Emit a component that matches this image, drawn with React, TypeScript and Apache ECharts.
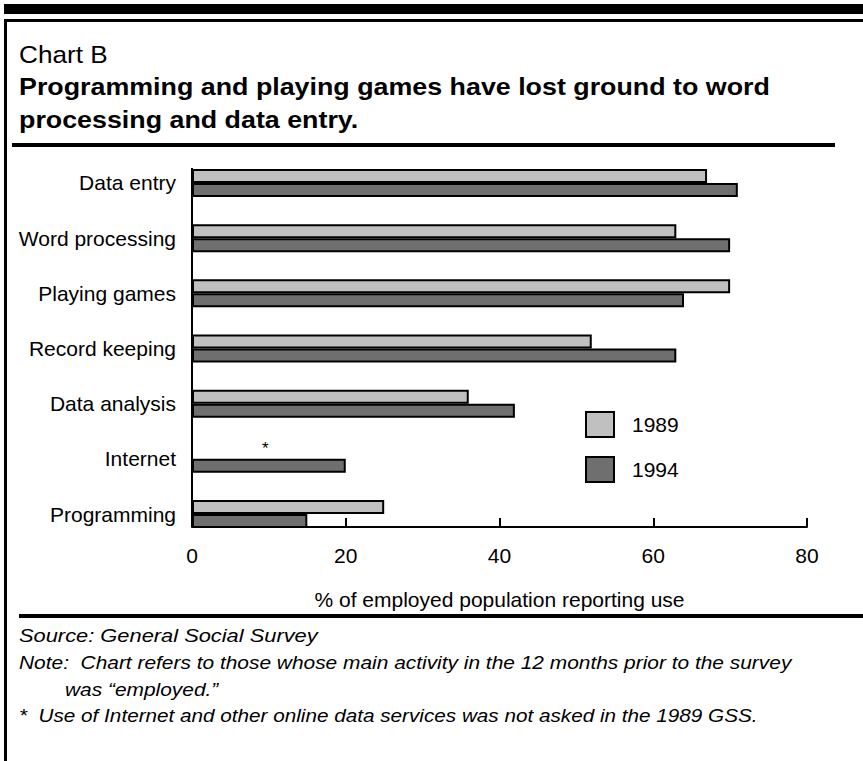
import React, { useEffect, useRef } from "react";
import * as echarts from "echarts";

const categories = [
  "Data entry",
  "Word processing",
  "Playing games",
  "Record keeping",
  "Data analysis",
  "Internet",
  "Programming",
];
const values1989: (number | null)[] = [67, 63, 70, 52, 36, null, 25];
const values1994: number[] = [71, 70, 64, 63, 42, 20, 15];
const seriesNames = ["1989", "1994"];
const xTicks = { min: 0, max: 80, interval: 20 };

const FONT = "'Liberation Sans', Arial, Helvetica, sans-serif";
const LIGHT = "#c0c0c0";
const DARK = "#6f6f6f";

// text drawn slightly widened, like the wide sans face of the printed chart
const wideText = (x: number, y: number, text: string, font: string, sx: number, extra = {}) => ({
  type: "text" as const,
  x,
  y,
  scaleX: sx,
  style: { text, font, fill: "#000", verticalAlign: "middle" as const, ...extra },
});

export default function App() {
  const ref = useRef<HTMLDivElement>(null);

  useEffect(() => {
    if (!ref.current) return;
    const chart = echarts.init(ref.current, undefined, { renderer: "svg" });

    const option: echarts.EChartsOption = {
      animation: false,
      backgroundColor: "#ffffff",
      textStyle: { fontFamily: FONT, color: "#000" },
      grid: { left: 192, right: 56, top: 155.4, bottom: 219.4, containLabel: false },
      legend: {
        orient: "vertical",
        left: 585,
        top: 411,
        padding: 0,
        itemWidth: 28,
        itemHeight: 25,
        itemGap: 18,
        icon: "rect",
        data: seriesNames,
        textStyle: { fontFamily: FONT, fontSize: 21, color: "#000", padding: [0, 0, 0, 13] },
        selectedMode: false,
      },
      xAxis: {
        type: "value",
        min: xTicks.min,
        max: xTicks.max,
        interval: xTicks.interval,
        position: "bottom",
        offset: -14.6,
        axisLine: { show: true, lineStyle: { color: "#000", width: 2 } },
        axisTick: { show: true, inside: true, length: 9, lineStyle: { color: "#000", width: 2 } },
        splitLine: { show: false },
        axisLabel: { fontFamily: FONT, fontSize: 21, color: "#000", margin: 18 },
        name: "% of employed population reporting use",
        nameLocation: "middle",
        nameGap: 62,
        nameTextStyle: { fontFamily: FONT, fontSize: 21, color: "#000" },
      },
      yAxis: {
        type: "category",
        data: categories,
        inverse: true,
        axisLine: { show: false },
        axisTick: { show: false },
        axisLabel: { fontFamily: FONT, fontSize: 21, color: "#000", margin: 16 },
      },
      series: [
        {
          name: seriesNames[0],
          type: "bar",
          data: values1989,
          barWidth: 14,
          barGap: "0%",
          itemStyle: { color: LIGHT, borderColor: "#000", borderWidth: 2 },
        },
        {
          name: seriesNames[1],
          type: "bar",
          data: values1994,
          barWidth: 14,
          barGap: "0%",
          itemStyle: { color: DARK, borderColor: "#000", borderWidth: 2 },
        },
      ],
      graphic: [
        // heavy rule across the top
        { type: "rect", shape: { x: 4, y: 4, width: 859, height: 10 }, style: { fill: "#000" } },
        // frame: top and left edges
        { type: "rect", shape: { x: 4, y: 19, width: 859, height: 3 }, style: { fill: "#000" } },
        { type: "rect", shape: { x: 4, y: 19, width: 3, height: 742 }, style: { fill: "#000" } },
        // rule under the heading
        { type: "rect", shape: { x: 12, y: 143, width: 823, height: 4 }, style: { fill: "#000" } },
        // rule above the notes
        { type: "rect", shape: { x: 19, y: 614, width: 844, height: 4 }, style: { fill: "#000" } },
        // vertical category axis line
        {
          type: "line",
          shape: { x1: 192, y1: 168, x2: 192, y2: 527 },
          style: { stroke: "#000", lineWidth: 2 },
        },
        wideText(19, 54, "Chart B", `24px ${FONT}`, 1.09),
        wideText(19, 87, "Programming and playing games have lost ground to word", `bold 24px ${FONT}`, 1.118),
        wideText(19, 120, "processing and data entry.", `bold 24px ${FONT}`, 1.118),
        wideText(262, 448, "*", `17px ${FONT}`, 1),
        wideText(19, 635, "Source: General Social Survey", `italic 19px ${FONT}`, 1.15),
        wideText(
          19,
          662,
          "Note:  Chart refers to those whose main activity in the 12 months prior to the survey",
          `italic 19px ${FONT}`,
          1.1
        ),
        wideText(65, 689, "was \u201cemployed.\u201d", `italic 19px ${FONT}`, 1.1),
        wideText(
          19,
          715,
          "*  Use of Internet and other online data services was not asked in the 1989 GSS.",
          `italic 19px ${FONT}`,
          1.09
        ),
      ],
    };

    chart.setOption(option);
    return () => chart.dispose();
  }, []);

  return (
    <div
      ref={ref}
      style={{ position: "fixed", left: 0, top: 0, width: 863, height: 761, background: "#fff" }}
    />
  );
}
